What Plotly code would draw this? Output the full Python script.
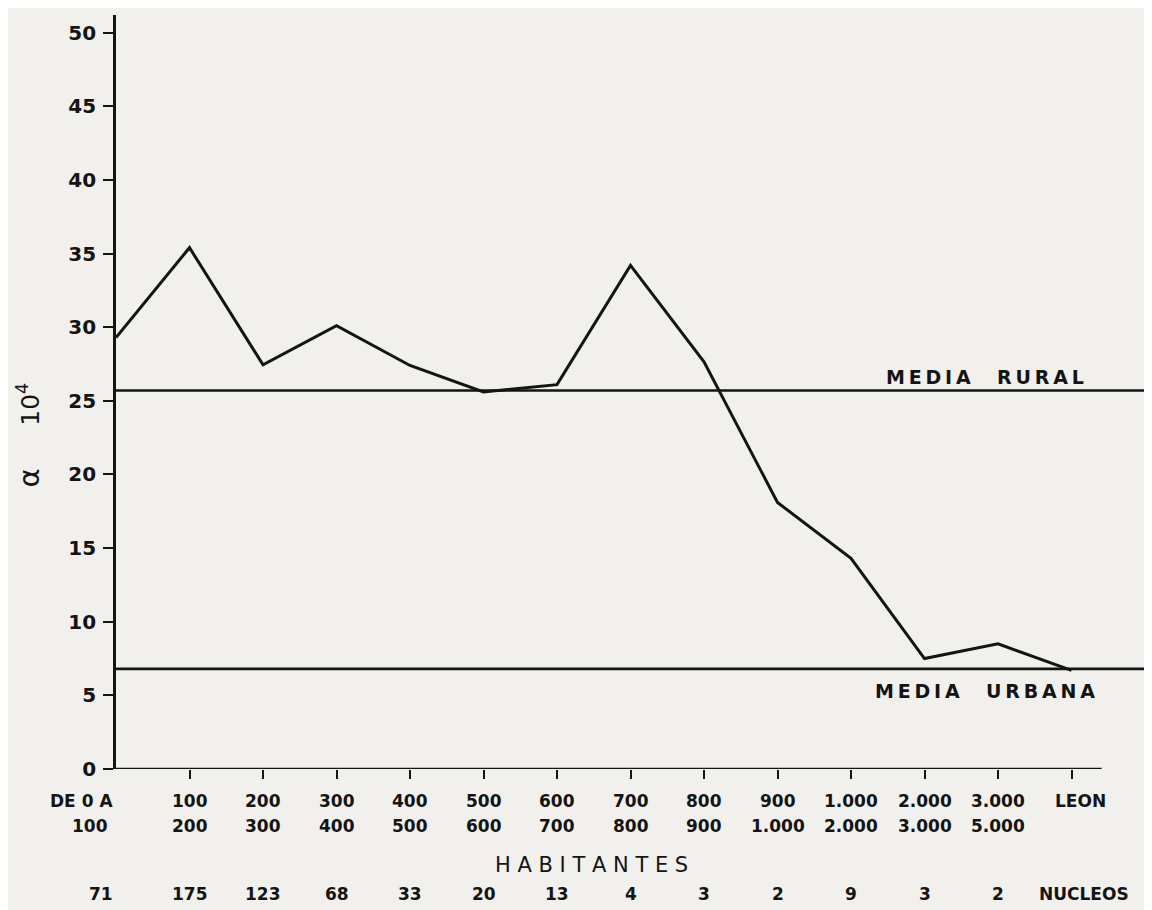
import plotly.graph_objects as go

# ---- data ----
cat_from = ["DE 0 A", "100", "200", "300", "400", "500", "600", "700", "800", "900",
            "1.000", "2.000", "3.000", "LEON"]
cat_to = ["100", "200", "300", "400", "500", "600", "700", "800", "900", "1.000",
          "2.000", "3.000", "5.000", ""]
alpha_values = [29.3, 35.4, 27.45, 30.1, 27.4, 25.6, 26.1, 34.2, 27.65, 18.1, 14.3, 7.5, 8.5, 6.7]
nucleos = ["71", "175", "123", "68", "33", "20", "13", "4", "3", "2", "9", "3", "2", "NUCLEOS"]
media_rural = 25.7
media_urbana = 6.8
y_ticks = [0, 5, 10, 15, 20, 25, 30, 35, 40, 45, 50]

positions = list(range(len(cat_from)))
INK = "#141414"
BG = "#f2f0ec"
FONT = "DejaVu Sans"
mean_end = 14.0
TS = "\u2009"   # thin space for letter spacing
NB = "\u00a0"

fig = go.Figure()

# mean lines
fig.add_trace(go.Scatter(x=[0, mean_end], y=[media_rural, media_rural], mode="lines",
                         line=dict(color=INK, width=2.6), hoverinfo="skip", showlegend=False,
                         cliponaxis=False))
fig.add_trace(go.Scatter(x=[0, mean_end], y=[media_urbana, media_urbana], mode="lines",
                         line=dict(color=INK, width=2.6), hoverinfo="skip", showlegend=False,
                         cliponaxis=False))
# data line
fig.add_trace(go.Scatter(x=positions, y=alpha_values, mode="lines",
                         line=dict(color=INK, width=3), showlegend=False, cliponaxis=False))

# x axis baseline (hand-drawn axis stops short of the right edge)
fig.add_shape(type="line", xref="x", yref="y", x0=0, x1=13.41, y0=0, y1=0,
              line=dict(color=INK, width=2.6))

annotations = []
bold = dict(family=FONT, size=17, color=INK, weight="bold")
for i in positions:
    if i == 0:
        anchor, sh1, sh2, sh3 = "right", -1, -6, -1
    elif i == len(positions) - 1:
        anchor, sh1, sh2, sh3 = "center", 9, 0, 12
    else:
        anchor, sh1, sh2, sh3 = "center", 0, 0, 0
    annotations.append(dict(x=i, y=-0.0424, xref="x", yref="paper", text=cat_from[i],
                            showarrow=False, xanchor=anchor, yanchor="middle", xshift=sh1,
                            font=bold))
    if cat_to[i]:
        annotations.append(dict(x=i, y=-0.0756, xref="x", yref="paper", text=cat_to[i],
                                showarrow=False, xanchor=anchor, yanchor="middle", xshift=sh2,
                                font=bold))
    annotations.append(dict(x=i, y=-0.1658, xref="x", yref="paper", text=nucleos[i],
                            showarrow=False, xanchor=anchor, yanchor="middle", xshift=sh3,
                            font=bold))

annotations.append(dict(x=0.4585, y=-0.1273, xref="paper", yref="paper",
                        text=NB.join("HABITANTES"),
                        showarrow=False, xanchor="center", yanchor="middle",
                        font=dict(family=FONT, size=21, color=INK)))
annotations.append(dict(x=11.82, y=media_rural, xref="x", yref="y",
                        text=TS.join("MEDIA") + NB * 4 + TS.join("RURAL"), showarrow=False,
                        xanchor="center", yanchor="bottom", yshift=1,
                        font=dict(family=FONT, size=19, color=INK, weight="bold")))
annotations.append(dict(x=11.82, y=media_urbana, xref="x", yref="y",
                        text=TS.join("MEDIA") + NB * 4 + TS.join("URBANA"),
                        showarrow=False,
                        xanchor="center", yanchor="top", yshift=-9,
                        font=dict(family=FONT, size=19, color=INK, weight="bold")))
# y axis title (rotated alpha and 10^4)
annotations.append(dict(x=-0.084, y=19.8, xref="paper", yref="y", text="α",
                        showarrow=False, textangle=-90, xanchor="center", yanchor="middle",
                        font=dict(family=FONT, size=29, color=INK)))
annotations.append(dict(x=-0.084, y=24.8, xref="paper", yref="y", text="10<sup>4</sup>",
                        showarrow=False, textangle=-90, xanchor="center", yanchor="middle",
                        font=dict(family=FONT, size=25, color=INK)))

# the page adds an 8px body margin, so the figure is 8px smaller and margins shifted
fig.update_layout(
    width=1144, height=902,
    margin=dict(l=108, r=0, t=7, b=141),
    paper_bgcolor=BG, plot_bgcolor=BG,
    showlegend=False,
    annotations=annotations,
    xaxis=dict(range=[0, 1036 / 73.5], showgrid=False, zeroline=False, showline=False,
               tickvals=positions[1:], ticks="outside", ticklen=9, tickwidth=2.2,
               tickcolor=INK, showticklabels=False, fixedrange=True),
    yaxis=dict(range=[0, 51.2], showgrid=False, zeroline=False, showline=True,
               linecolor=INK, linewidth=2.6, tickvals=y_ticks, ticks="outside",
               ticklen=10, tickwidth=2.2, tickcolor=INK, ticklabelstandoff=3,
               tickfont=dict(family=FONT, size=20, color=INK, weight="bold"),
               fixedrange=True),
)

fig.write_html("out.html")
